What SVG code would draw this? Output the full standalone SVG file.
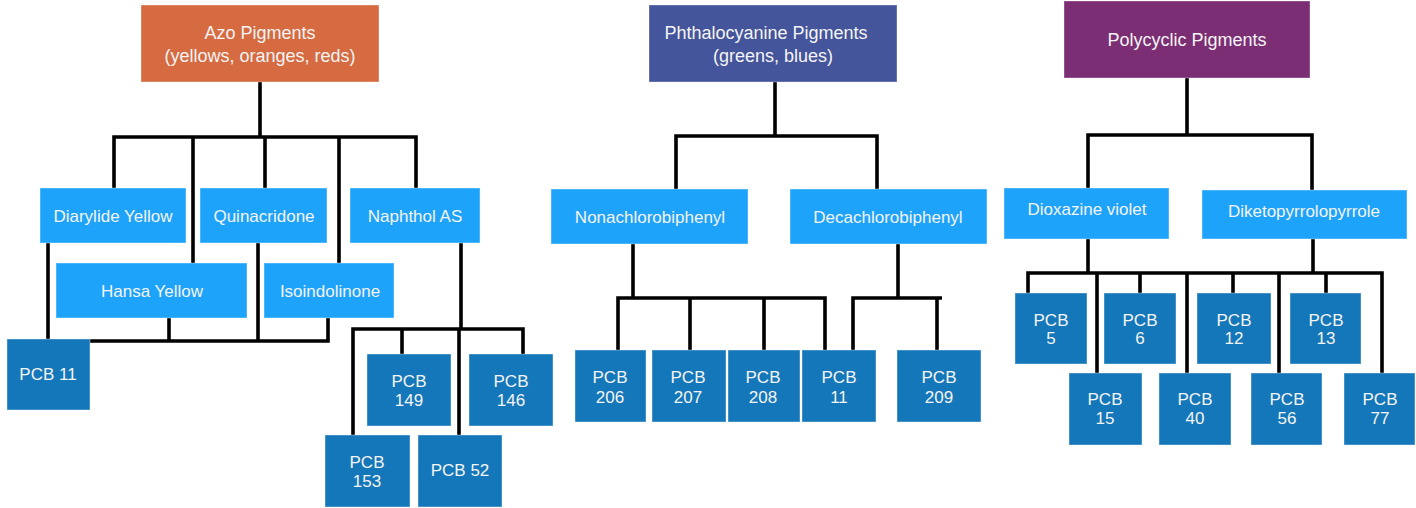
<svg xmlns="http://www.w3.org/2000/svg" width="1416" height="508" viewBox="0 0 1416 508">
<style>
.bg{fill:#ffffff}
.c path{fill:none;stroke:#000;stroke-width:3.6;stroke-linejoin:miter;stroke-linecap:butt}
.hd rect{stroke:#ffffff;stroke-opacity:0.35;stroke-width:1}
.sub rect{fill:#1ea3fb;stroke:#ffffff;stroke-opacity:0.4;stroke-width:1}
.pcb rect{fill:#1477b9;stroke:#ffffff;stroke-opacity:0.4;stroke-width:1}
text{font-family:"Liberation Sans",Arial,Helvetica,sans-serif;fill:#f4f4f4;text-anchor:middle}
.hd text{font-size:18px}
.sub text,.pcb text{font-size:17px}
</style>
<rect class="bg" x="0" y="0" width="1416" height="508"/>
<g id="connectors" class="c">
  <path d="M260 82 V137"/>
  <path d="M114 188 V137 H416 V188"/>
  <path d="M193 137 V263"/>
  <path d="M265 137 V188"/>
  <path d="M339 137 V263"/>
  <path d="M48 243 V339"/>
  <path d="M258 243 V341"/>
  <path d="M169 318 V341"/>
  <path d="M90 341 H328 V318"/>
  <path d="M461 243 V329"/>
  <path d="M353 435 V329 H523 V354"/>
  <path d="M402 329 V354"/>
  <path d="M459 329 V435"/>
  <path d="M775 82 V136"/>
  <path d="M676 189 V136 H877 V189"/>
  <path d="M633 244 V298"/>
  <path d="M618 350 V298 H825 V350"/>
  <path d="M690 298 V350"/>
  <path d="M764 298 V350"/>
  <path d="M898 244 V298"/>
  <path d="M853 350 V298 H942"/>
  <path d="M937 298 V350"/>
  <path d="M1187 78 V135"/>
  <path d="M1088 188 V135 H1312 V190"/>
  <path d="M1088 239 V273"/>
  <path d="M1313 239 V273"/>
  <path d="M1028 293 V273 H1382 V373"/>
  <path d="M1097 273 V373"/>
  <path d="M1140 273 V293"/>
  <path d="M1187 273 V373"/>
  <path d="M1233 273 V293"/>
  <path d="M1279 273 V373"/>
  <path d="M1326 273 V293"/>
</g>
<g id="azo" class="hd"><rect x="141" y="5" width="238" height="77" fill="#d66b41"/><text x="260" y="39">Azo Pigments</text><text x="260" y="62">(yellows, oranges, reds)</text></g>
<g id="phthalo" class="hd"><rect x="649" y="5" width="248" height="77" fill="#44559b"/><text x="766" y="39">Phthalocyanine Pigments</text><text x="773" y="62">(greens, blues)</text></g>
<g id="polycyclic" class="hd"><rect x="1064" y="1" width="246" height="77" fill="#7b2e74"/><text x="1187" y="46">Polycyclic Pigments</text></g>
<g id="diarylide" class="sub"><rect x="40" y="188" width="146" height="55"/><text x="113" y="222">Diarylide Yellow</text></g>
<g id="quinacridone" class="sub"><rect x="200" y="188" width="127" height="55"/><text x="264" y="222">Quinacridone</text></g>
<g id="naphthol" class="sub"><rect x="350" y="188" width="130" height="55"/><text x="415" y="222">Naphthol AS</text></g>
<g id="hansa" class="sub"><rect x="56" y="263" width="191" height="55"/><text x="152" y="297">Hansa Yellow</text></g>
<g id="isoindolinone" class="sub"><rect x="264" y="263" width="130" height="55"/><text x="330" y="297">Isoindolinone</text></g>
<g id="nonachloro" class="sub"><rect x="551" y="189" width="197" height="55"/><text x="650" y="223">Nonachlorobiphenyl</text></g>
<g id="decachloro" class="sub"><rect x="790" y="189" width="197" height="55"/><text x="888" y="223">Decachlorobiphenyl</text></g>
<g id="dioxazine" class="sub"><rect x="1004" y="188" width="165" height="51"/><text x="1087" y="215">Dioxazine violet</text></g>
<g id="diketo" class="sub"><rect x="1202" y="190" width="205" height="49"/><text x="1304" y="217">Diketopyrrolopyrrole</text></g>
<g id="pcb11a" class="pcb"><rect x="7" y="339" width="83" height="71"/><text x="48" y="380">PCB 11</text></g>
<g id="pcb149" class="pcb"><rect x="367" y="354" width="84" height="72"/><text x="409" y="387">PCB</text><text x="409" y="406">149</text></g>
<g id="pcb146" class="pcb"><rect x="469" y="354" width="84" height="72"/><text x="511" y="387">PCB</text><text x="511" y="406">146</text></g>
<g id="pcb153" class="pcb"><rect x="325" y="435" width="85" height="72"/><text x="367" y="468">PCB</text><text x="367" y="487">153</text></g>
<g id="pcb52" class="pcb"><rect x="418" y="435" width="84" height="72"/><text x="460" y="476">PCB 52</text></g>
<g id="pcb206" class="pcb"><rect x="575" y="350" width="71" height="72"/><text x="610" y="383">PCB</text><text x="610" y="403">206</text></g>
<g id="pcb207" class="pcb"><rect x="652" y="350" width="74" height="72"/><text x="688" y="383">PCB</text><text x="688" y="403">207</text></g>
<g id="pcb208" class="pcb"><rect x="728" y="350" width="72" height="72"/><text x="763" y="383">PCB</text><text x="763" y="403">208</text></g>
<g id="pcb11b" class="pcb"><rect x="802" y="350" width="74" height="72"/><text x="839" y="383">PCB</text><text x="839" y="403">11</text></g>
<g id="pcb209" class="pcb"><rect x="897" y="350" width="84" height="72"/><text x="939" y="383">PCB</text><text x="939" y="403">209</text></g>
<g id="pcb5" class="pcb"><rect x="1015" y="293" width="72" height="71"/><text x="1051" y="326">PCB</text><text x="1051" y="344">5</text></g>
<g id="pcb6" class="pcb"><rect x="1104" y="293" width="72" height="71"/><text x="1140" y="326">PCB</text><text x="1140" y="344">6</text></g>
<g id="pcb12" class="pcb"><rect x="1197" y="293" width="74" height="71"/><text x="1234" y="326">PCB</text><text x="1234" y="344">12</text></g>
<g id="pcb13" class="pcb"><rect x="1290" y="293" width="71" height="71"/><text x="1326" y="326">PCB</text><text x="1326" y="344">13</text></g>
<g id="pcb15" class="pcb"><rect x="1069" y="373" width="73" height="72"/><text x="1105" y="405">PCB</text><text x="1105" y="424">15</text></g>
<g id="pcb40" class="pcb"><rect x="1159" y="373" width="72" height="72"/><text x="1195" y="405">PCB</text><text x="1195" y="424">40</text></g>
<g id="pcb56" class="pcb"><rect x="1251" y="373" width="71" height="72"/><text x="1287" y="405">PCB</text><text x="1287" y="424">56</text></g>
<g id="pcb77" class="pcb"><rect x="1344" y="373" width="71" height="72"/><text x="1380" y="405">PCB</text><text x="1380" y="424">77</text></g>
</svg>
